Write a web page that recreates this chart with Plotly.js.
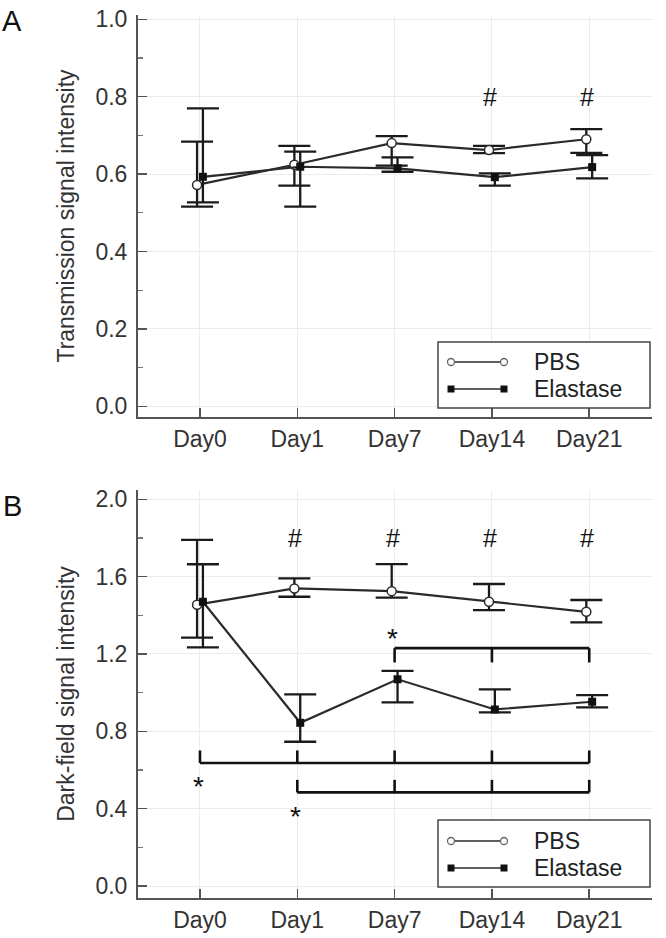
<!DOCTYPE html>
<html>
<head>
<meta charset="utf-8">
<script src="https://cdn.plot.ly/plotly-3.0.1.min.js"></script>
<style>html,body{margin:0;padding:0;background:#fff;}#chart{width:666px;height:938px;}</style>
</head>
<body>
<div id="chart"></div>
<script>
// ---------- data ----------
const days = ['Day0', 'Day1', 'Day7', 'Day14', 'Day21'];

// Panel A: transmission signal intensity
const transPBS      = [0.572, 0.624, 0.680, 0.662, 0.690];
const transPBSHi    = [0.684, 0.673, 0.698, 0.673, 0.716];
const transPBSLo    = [0.516, 0.570, 0.622, 0.654, 0.655];
const transEla      = [0.593, 0.619, 0.615, 0.592, 0.618];
const transElaHi    = [0.770, 0.658, 0.643, 0.602, 0.649];
const transElaLo    = [0.527, 0.516, 0.606, 0.570, 0.589];
const transHashDays = ['Day14', 'Day21'];

// Panel B: dark-field signal intensity
const darkPBS       = [1.455, 1.539, 1.525, 1.470, 1.418];
const darkPBSHi     = [1.790, 1.591, 1.665, 1.562, 1.479];
const darkPBSLo     = [1.285, 1.496, 1.491, 1.427, 1.363];
const darkEla       = [1.470, 0.844, 1.069, 0.913, 0.953];
const darkElaHi     = [1.664, 0.991, 1.113, 1.017, 0.987];
const darkElaLo     = [1.234, 0.746, 0.950, 0.898, 0.924];
const darkHashDays  = ['Day1', 'Day7', 'Day14', 'Day21'];

// significance brackets in panel B (from day, to day)
const bracketFrom   = ['Day7', 'Day0', 'Day1'];
const bracketTo     = ['Day21', 'Day21', 'Day21'];
const seriesNames   = ['PBS', 'Elastase'];

// ---------- helpers ----------
const W = 666, H = 938;
const M = {l: 138, r: 14, t: 15, b: 40};
const PW = W - M.l - M.r, PH = H - M.t - M.b;
const px = v => (v - M.l) / PW;          // pixel x -> paper
const py = v => (H - M.b - v) / PH;      // pixel y -> paper
const pos = d => days.indexOf(d);
const off = 0.03;
const FONT = 'Liberation Sans, Arial, sans-serif';
const INK = '#1a1a1a';
const LINE = '#2a2a2a';

function series(xaxis, yaxis, vals, hi, lo, shift, isPBS) {
  return {
    type: 'scatter', mode: 'lines+markers', xaxis, yaxis,
    x: days.map((d, i) => i + shift), y: vals,
    line: {color: LINE, width: 2.2},
    marker: isPBS
      ? {symbol: 'circle', size: 9, color: '#fff', line: {color: LINE, width: 1.5}}
      : {symbol: 'square', size: 8, color: '#111', line: {color: '#111', width: 0}},
    error_y: {type: 'data', symmetric: false,
      array: hi.map((h, i) => h - vals[i]),
      arrayminus: lo.map((l, i) => vals[i] - l),
      width: 16, thickness: 2.3, color: INK},
    showlegend: false, hoverinfo: 'skip'
  };
}

const data = [
  series('x', 'y', transPBS, transPBSHi, transPBSLo, -off, true),
  series('x', 'y', transEla, transElaHi, transElaLo, off, false),
  series('x2', 'y2', darkPBS, darkPBSHi, darkPBSLo, -off, true),
  series('x2', 'y2', darkEla, darkElaHi, darkElaLo, off, false)
];

// ---------- annotations & shapes ----------
const annotations = [];
const shapes = [];

annotations.push({text: 'A', xref: 'paper', yref: 'paper', x: px(0), y: py(3), xanchor: 'left', yanchor: 'top',
  showarrow: false, font: {family: FONT, size: 29, color: '#111'}});
annotations.push({text: 'B', xref: 'paper', yref: 'paper', x: px(1), y: py(488), xanchor: 'left', yanchor: 'top',
  showarrow: false, font: {family: FONT, size: 29, color: '#111'}});

const markFont = {family: FONT, size: 25, color: '#111'};
transHashDays.forEach(d => annotations.push({text: '#', xref: 'x', yref: 'y', x: pos(d) - 0.02, y: 0.80,
  showarrow: false, font: markFont}));
darkHashDays.forEach(d => annotations.push({text: '#', xref: 'x2', yref: 'y2', x: pos(d) - 0.02, y: 1.80,
  showarrow: false, font: markFont}));

// brackets: [horizontal y, tick end y, star y, star x-day]
const bracketGeo = [
  {y: 1.230, tip: 1.156, starY: 1.316, starDay: 'Day7'},
  {y: 0.636, tip: 0.701, starY: 0.553, starDay: 'Day0'},
  {y: 0.484, tip: 0.549, starY: 0.394, starDay: 'Day1'}
];
bracketFrom.forEach((f, k) => {
  const g = bracketGeo[k];
  const a = pos(f), b = pos(bracketTo[k]);
  shapes.push({type: 'line', xref: 'x2', yref: 'y2', x0: a, x1: b, y0: g.y, y1: g.y, line: {color: '#111', width: 2.6}});
  for (let i = a; i <= b; i++) {
    shapes.push({type: 'line', xref: 'x2', yref: 'y2', x0: i, x1: i, y0: g.y, y1: g.tip, line: {color: '#111', width: 2.6}});
  }
  annotations.push({text: '*', xref: 'x2', yref: 'y2', x: pos(g.starDay) - 0.02, y: g.starY, yanchor: 'middle', yshift: -7,
    showarrow: false, font: {family: FONT, size: 28, color: '#111'}});
});

// custom legends (marker at both ends of line)
function legend(boxTop, boxBottom) {
  shapes.push({type: 'rect', xref: 'paper', yref: 'paper', x0: px(438), x1: px(650), y0: py(boxBottom), y1: py(boxTop),
    line: {color: '#444', width: 1.5}, fillcolor: '#fff', layer: 'above'});
  [boxBottom - 46, boxBottom - 19].forEach((ry, k) => {
    shapes.push({type: 'line', xref: 'paper', yref: 'paper', x0: px(451), x1: px(504), y0: py(ry), y1: py(ry),
      line: {color: LINE, width: 1.5}, layer: 'above'});
    [451, 504].forEach(cx => {
      if (k === 0) {
        shapes.push({type: 'circle', xref: 'paper', yref: 'paper', x0: px(cx - 3.5), x1: px(cx + 3.5), y0: py(ry + 3.5), y1: py(ry - 3.5),
          line: {color: '#666', width: 1.3}, fillcolor: '#fff', layer: 'above'});
      } else {
        shapes.push({type: 'rect', xref: 'paper', yref: 'paper', x0: px(cx - 3.5), x1: px(cx + 3.5), y0: py(ry + 3.5), y1: py(ry - 3.5),
          line: {width: 0}, fillcolor: '#111', layer: 'above'});
      }
    });
    annotations.push({text: seriesNames[k], xref: 'paper', yref: 'paper', x: px(532), y: py(ry), xanchor: 'left', yanchor: 'middle',
      showarrow: false, font: {family: FONT, size: 23, color: '#222'}});
  });
}
legend(342, 408);
legend(820, 887);

// ---------- axes ----------
const tickFont = {family: FONT, size: 23, color: '#333'};
function xAxis(anchor) {
  return {
    anchor, domain: [0, 1], range: [-0.637, 4.645],
    tickmode: 'array', tickvals: days.map((d, i) => i), ticktext: days,
    ticks: 'inside', ticklen: 9, tickwidth: 1.5, tickcolor: '#555',
    showline: true, linecolor: '#555', linewidth: 2,
    showgrid: true, gridcolor: '#ececec', gridwidth: 1,
    zeroline: false, tickfont: tickFont, fixedrange: true
  };
}
function yAxis(anchor, domain, range, dtick, title) {
  return {
    anchor, domain, range,
    tick0: 0, dtick, tickformat: '.1f',
    ticks: 'inside', ticklen: 9, tickwidth: 1.5, tickcolor: '#555',
    ticklabelstandoff: 4,
    minor: {ticks: 'inside', ticklen: 5, tickwidth: 1.2, tickcolor: '#777', dtick: dtick / 2, showgrid: false},
    showline: true, linecolor: '#555', linewidth: 2,
    showgrid: true, gridcolor: '#ececec', gridwidth: 1,
    zeroline: false, tickfont: tickFont, fixedrange: true,
    title: {text: title, font: {family: FONT, size: 23, color: '#333'}, standoff: 14}
  };
}

const layout = {
  width: W, height: H,
  margin: M,
  paper_bgcolor: '#fff', plot_bgcolor: '#fff',
  font: {family: FONT},
  showlegend: false,
  xaxis: xAxis('y'),
  yaxis: yAxis('x', [py(417), py(15)], [-0.0276, 1.011], 0.2, 'Transmission signal intensity'),
  xaxis2: xAxis('y2'),
  yaxis2: yAxis('x2', [py(898), py(490)], [-0.062, 2.048], 0.4, 'Dark-field signal intensity'),
  shapes, annotations
};

Plotly.newPlot('chart', data, layout, {displayModeBar: false, staticPlot: true});
</script>
</body>
</html>
